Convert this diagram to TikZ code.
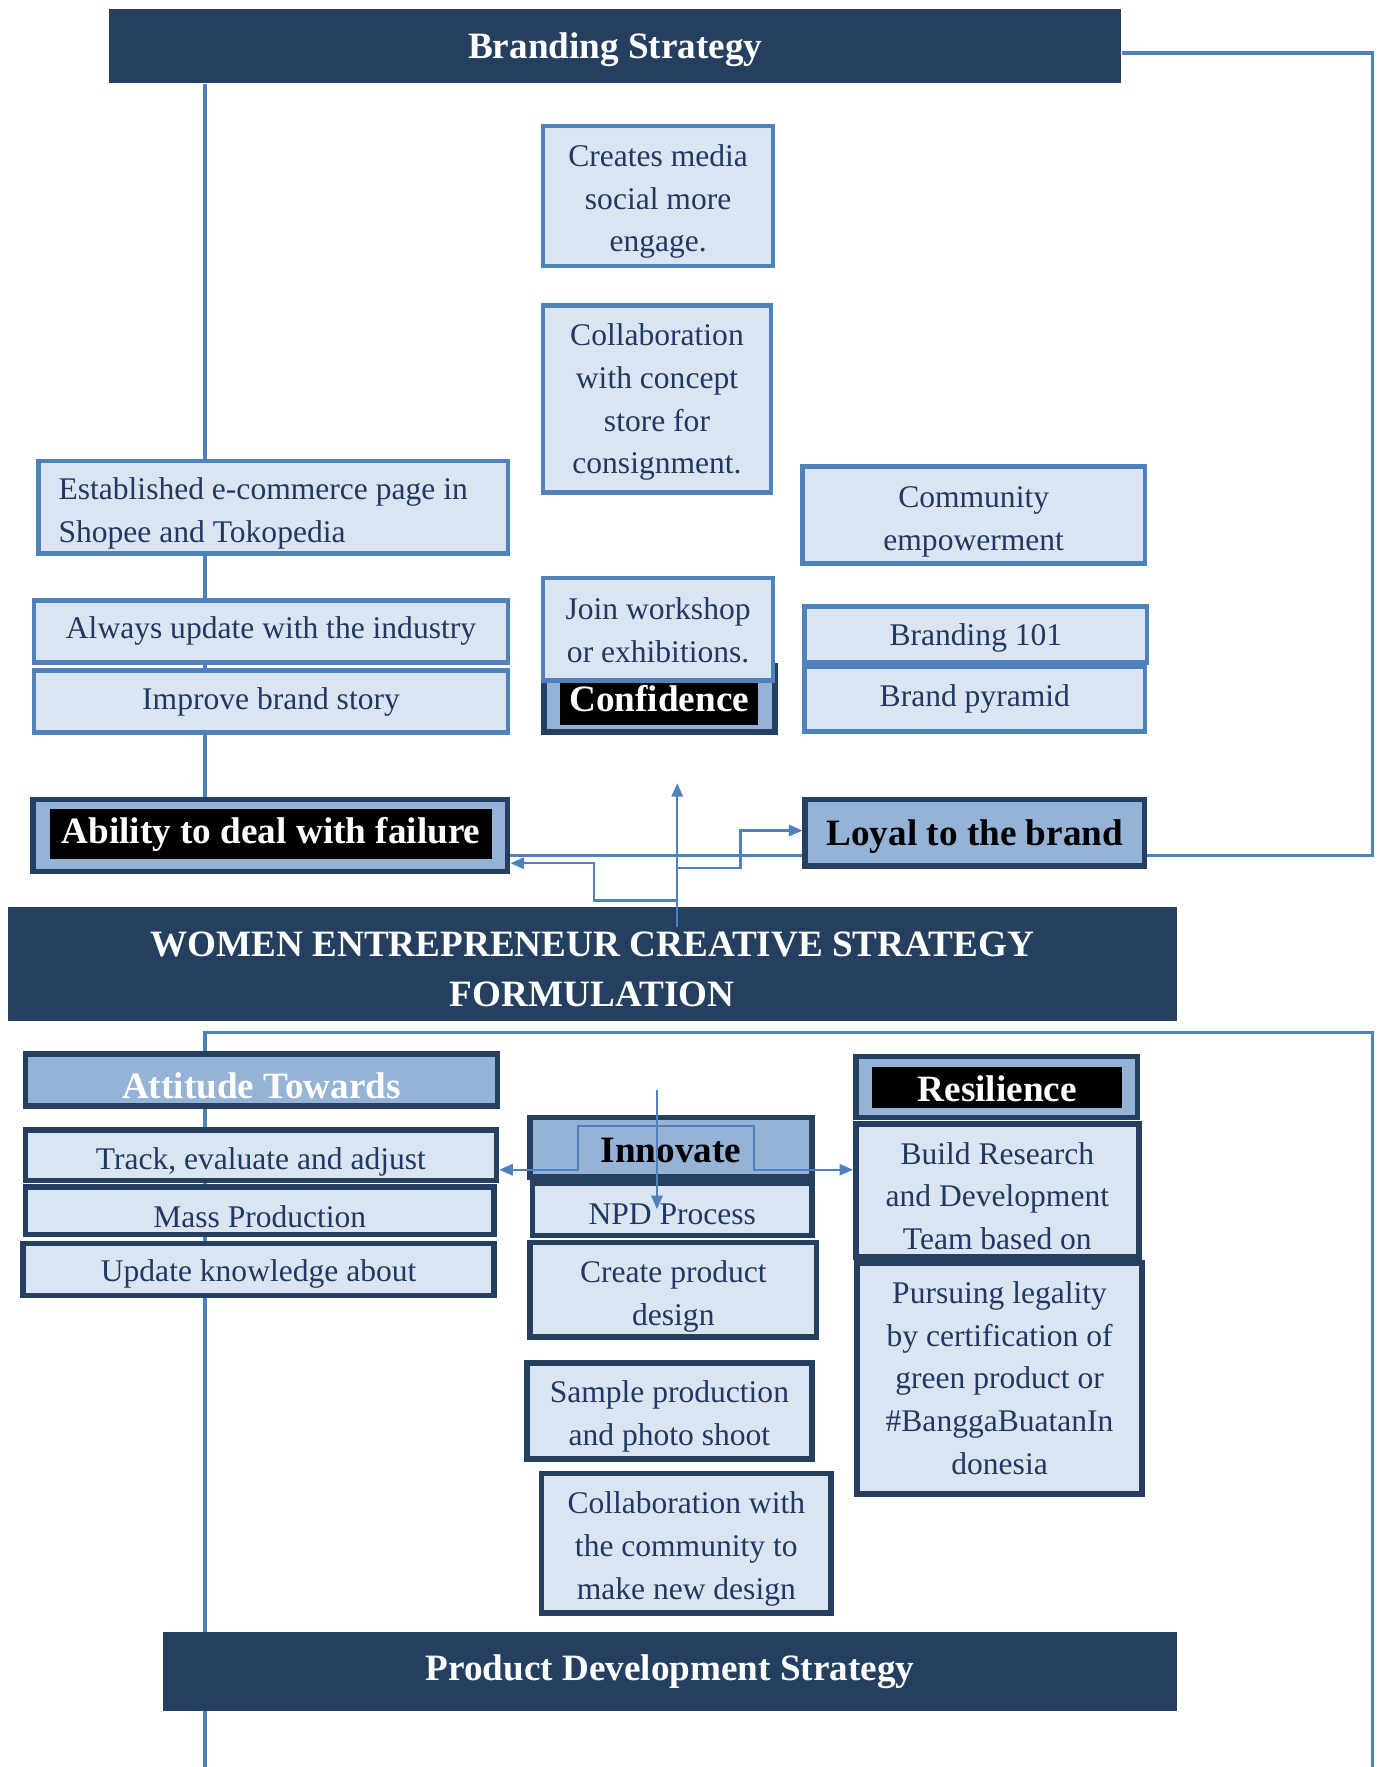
\documentclass[tikz,border=0pt]{standalone}
\usepackage{fontspec}
\setmainfont{Liberation Serif}
\usetikzlibrary{arrows.meta,backgrounds}
\definecolor{navy}{HTML}{243F60}
\definecolor{lightfill}{HTML}{DBE5F1}
\definecolor{midfill}{HTML}{95B3D7}
\definecolor{accent}{HTML}{4F81BD}
\definecolor{txt}{HTML}{1F3864}
\begin{document}
\begin{tikzpicture}[x=0.5pt,y=-0.5pt,
  lbox/.style={draw=accent, line width=2pt, fill=lightfill, text=txt, font=\fontsize{14}{19}\selectfont, align=center, inner sep=0pt},
  dbox/.style={draw=navy, line width=2.5pt, fill=lightfill, text=txt, font=\fontsize{14}{19}\selectfont, align=center, inner sep=0pt},
  mbox/.style={draw=navy, line width=2.5pt, fill=midfill, inner sep=0pt, text=black, font=\fontsize{16.5}{22}\selectfont\bfseries},
  blk/.style={fill=black, text=white, inner sep=0pt, font=\fontsize{16.5}{22}\selectfont\bfseries},
  banner/.style={fill=navy, text=white, inner sep=0pt, align=center, font=\fontsize{16.5}{22}\selectfont\bfseries},
  conn/.style={draw=accent, line width=1.5pt},
  thinc/.style={draw=accent, line width=1pt},
  tip/.style={-{Triangle[length=6pt,width=5pt]}},
  dtip/.style={{Triangle[length=6pt,width=5pt]}-{Triangle[length=6pt,width=5pt]}},
  th/.style={text height=#1pt, text depth=0pt}
]
\useasboundingbox (0,0) rectangle (1224,1568);

% ---------- banners ----------
\node[banner, th=10.6, minimum width=449pt, minimum height=33pt] (brand) at (546,41) {Branding Strategy};
\node[banner, th=37.7, minimum width=518.5pt, minimum height=50.5pt] (women) at (525.5,855.5) {WOMEN ENTREPRENEUR CREATIVE STRATEGY\\FORMULATION};
\node[banner, th=8.6, minimum width=449.5pt, minimum height=35pt] (product) at (594.5,1483) {Product Development Strategy};

% ---------- branding side ----------
\node[lbox, th=49.5, minimum width=102pt, minimum height=62pt] (creates) at (584,174) {Creates media\\social more\\engage.};
\node[lbox, th=66.5, minimum width=101pt, minimum height=83pt] (collab) at (583,354) {Collaboration\\with concept\\store for\\consignment.};
\node[lbox, text height=0pt, text depth=6.5pt, text width=190.5pt, inner xsep=9pt, align=flush left, minimum height=41pt] (estab) at (242.5,450) {Established e-commerce page in\\Shopee and Tokopedia};
\node[lbox, th=6.5, minimum width=210.5pt, minimum height=27.5pt] (always) at (240.5,560.5) {Always update with the industry};
\node[lbox, th=7.5, minimum width=210.5pt, minimum height=27.5pt] (improve) at (240.5,622.5) {Improve brand story};
\node[lbox, th=31.5, minimum width=152pt, minimum height=43pt] (community) at (864,457) {Community\\empowerment};
\node[lbox, th=9.5, minimum width=152pt, minimum height=25pt] (b101) at (866,563) {Branding 101};
\node[lbox, th=6.5, minimum width=151pt, minimum height=28.5pt] (pyramid) at (865,620.5) {Brand pyramid};

\node[mbox, minimum width=102.5pt, minimum height=29.5pt] (conf) at (585,620) {};
\node[blk, th=10.2, minimum width=88pt, minimum height=21.5pt] (conftxt) at (585,621.5) {Confidence};
\node[lbox, th=29.5, minimum width=102pt, minimum height=45.5pt] (join) at (584,558.5) {Join workshop\\or exhibitions.};

\node[mbox, minimum width=210.5pt, minimum height=32pt] (ability) at (240,741.5) {};
\node[blk, th=8.6, minimum width=196.5pt, minimum height=22pt] (abilitytxt) at (240.5,740) {Ability to deal with failure};
\node[mbox, th=11.6, minimum width=150.5pt, minimum height=29.5pt] (loyal) at (865,739) {Loyal to the brand};

% ---------- product side ----------
\node[mbox, th=16.2, text=white, minimum width=209.5pt, minimum height=23pt] (attitude) at (232,958.5) {Attitude Towards};
\node[dbox, th=12.5, minimum width=209pt, minimum height=22.5pt] (track) at (231.5,1025) {Track, evaluate and adjust};
\node[dbox, th=14.5, minimum width=208pt, minimum height=21pt] (mass) at (230.5,1074.5) {Mass Production};
\node[dbox, th=10.5, minimum width=209pt, minimum height=23pt] (update) at (229.5,1126.5) {Update knowledge about};

\node[mbox, th=13.2, minimum width=125pt, minimum height=26.5pt] (innovate) at (595.5,1018) {Innovate};
\node[dbox, th=13.5, minimum width=124pt, minimum height=23.5pt] (npd) at (596.5,1073) {NPD Process};
\node[dbox, th=31.5, minimum width=127pt, minimum height=42pt] (cdesign) at (597.5,1144.5) {Create product\\design};
\node[dbox, th=30.5, minimum width=126.5pt, minimum height=42.5pt] (sample) at (594,1252) {Sample production\\and photo shoot};
\node[dbox, th=49.5, minimum width=128.5pt, minimum height=62pt] (ccomm) at (609,1369.5) {Collaboration with\\the community to\\make new design};

\node[mbox, minimum width=125pt, minimum height=27pt] (resil) at (884.5,964.5) {};
\node[blk, th=12.2, minimum width=111pt, minimum height=18pt] (resiltxt) at (885,965) {Resilience};
\node[dbox, th=52.5, minimum width=125.5pt, minimum height=59pt] (build) at (885,1056.5) {Build Research\\and Development\\Team based on};
\node[dbox, th=85.5, minimum width=126.5pt, minimum height=102.5pt] (pursue) at (887,1223) {Pursuing legality\\by certification of\\green product or\\\#BanggaBuatanIn\\donesia};

% ---------- coordinates ----------
\coordinate (vx) at (182,0);
\coordinate (rtop) at (1218,47);
\coordinate (rbot) at (1218,759);
\coordinate (bl) at (182,916);
\coordinate (br) at (1218,916);
\coordinate (blb) at (182,1568);
\coordinate (brb) at (1218,1568);
\coordinate (c0) at (601,823);
\coordinate (up) at (601,695);
\coordinate (lb1) at (601,799);
\coordinate (lb2) at (527,799);
\coordinate (lb3) at (527,766);
\coordinate (rb1) at (601,770);
\coordinate (rb2) at (657,770);
\coordinate (rb3) at (657,737);
\coordinate (iv0) at (583,967);
\coordinate (iv1) at (583,1073);
\coordinate (ib1) at (513,1038);
\coordinate (ib2) at (513,999);
\coordinate (ib3) at (669,999);
\coordinate (ib4) at (669,1038);

% ---------- background connectors ----------
\begin{pgfonlayer}{background}
\draw[conn] (brand.south -| vx) -- (ability.north -| vx);
\draw[conn] (brand.east |- rtop) -- (rtop) -- (rbot) -- (ability.east |- rbot);
\draw[conn] (blb) -- (bl) -- (br) -- (brb);
\end{pgfonlayer}

% ---------- foreground connectors ----------
\draw[thinc, tip] (c0) -- (up);
\draw[thinc, tip] (lb1) -- (lb2) -- (lb3) -- (ability.east |- lb3);
\draw[thinc, tip] (rb1) -- (rb2) -- (rb3) -- (loyal.west |- rb3);
\draw[thinc, tip] (iv0) -- (iv1);
\draw[thinc, dtip] (track.east |- ib1) -- (ib1) -- (ib2) -- (ib3) -- (ib4) -- (build.west |- ib4);
\end{tikzpicture}
\end{document}
